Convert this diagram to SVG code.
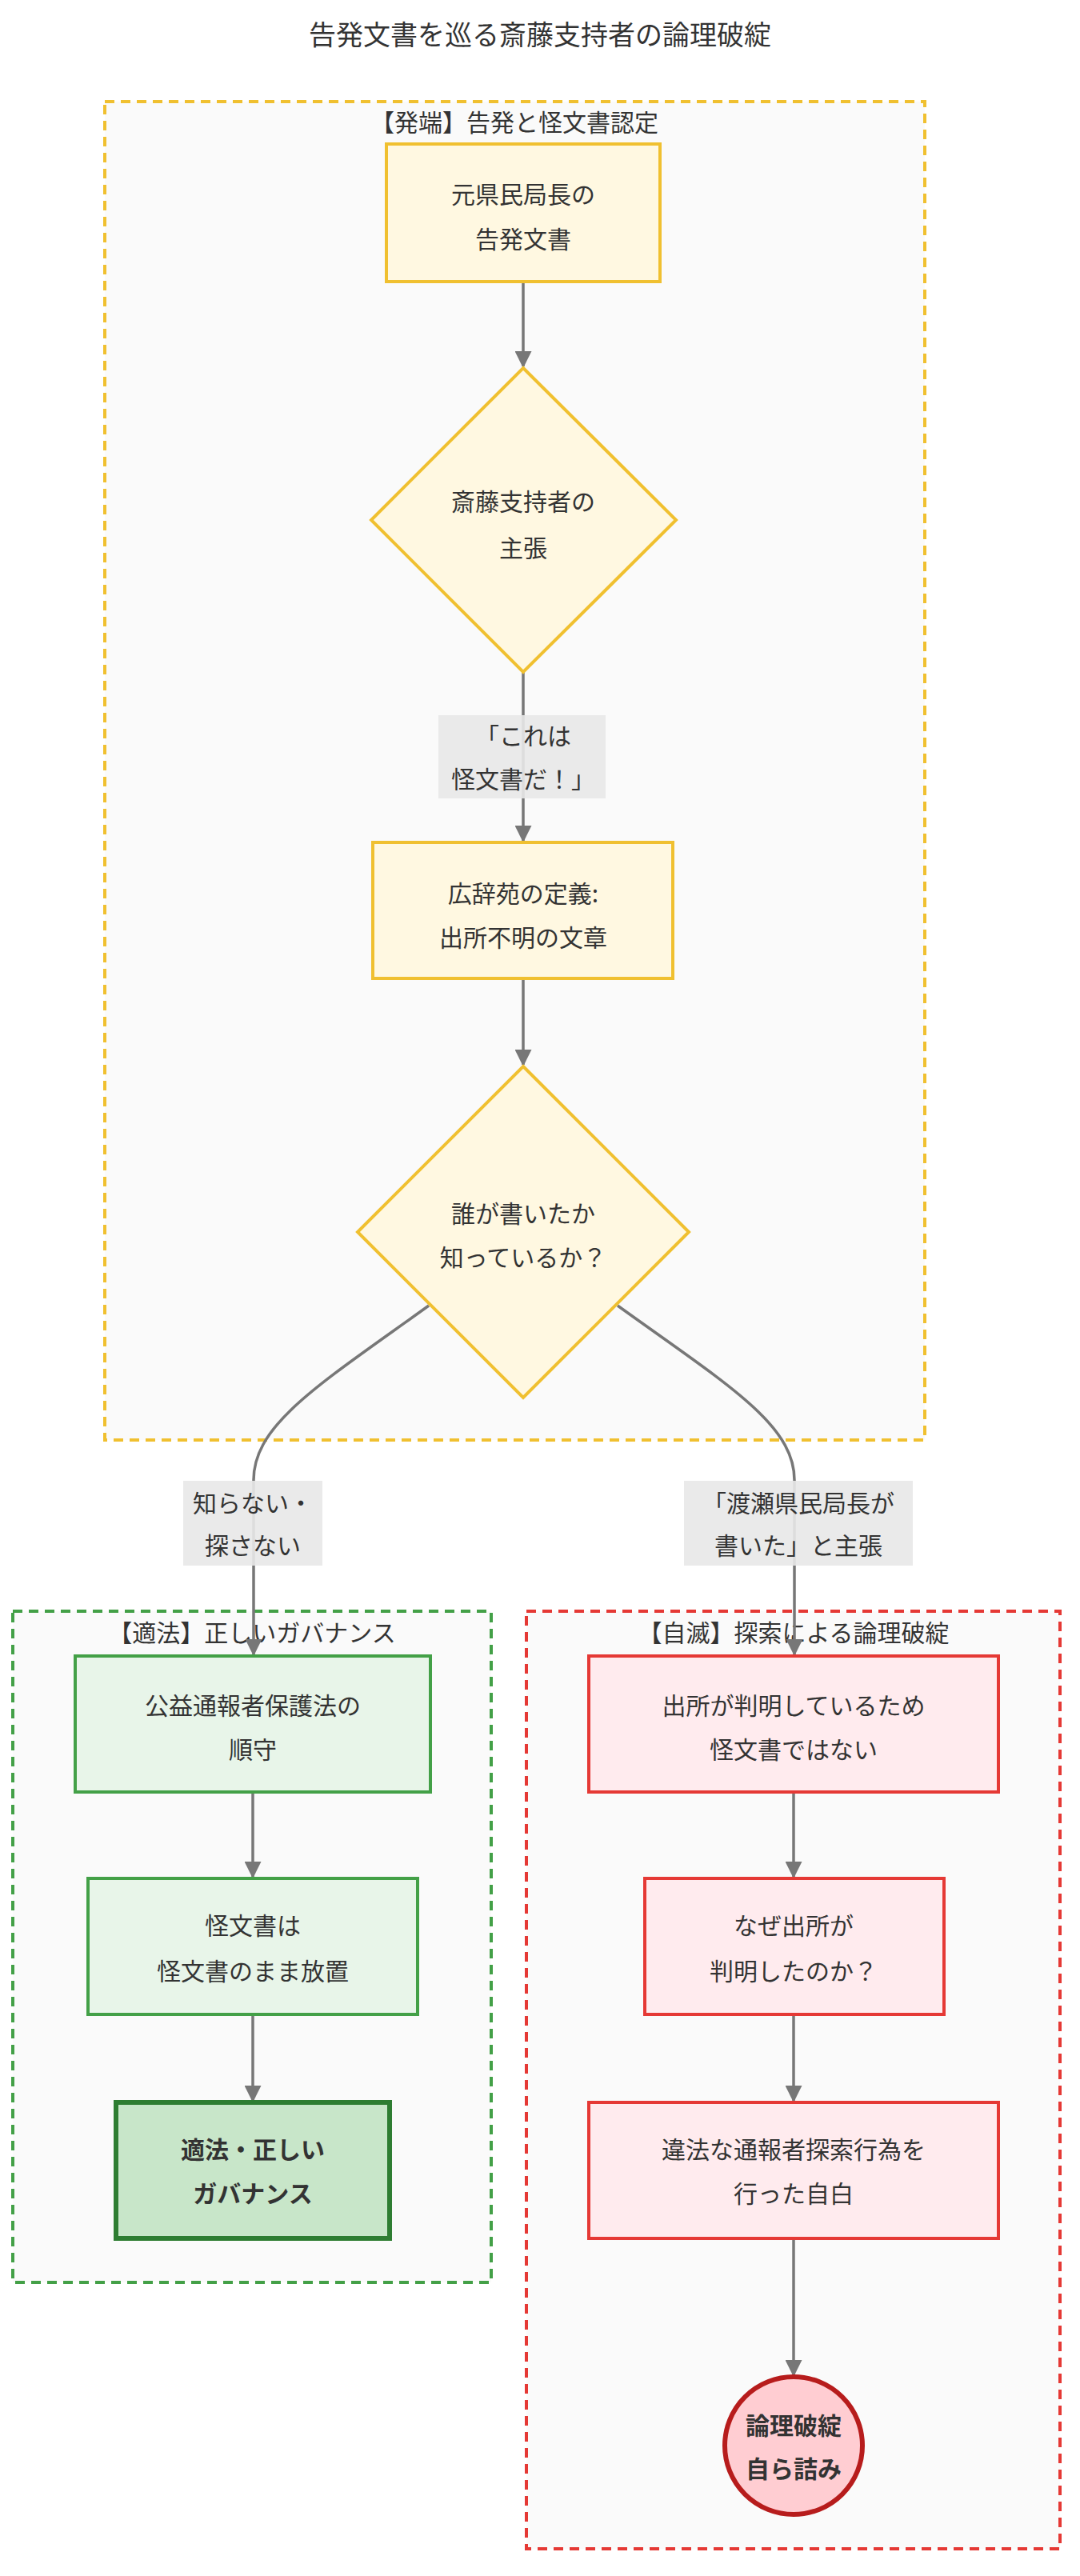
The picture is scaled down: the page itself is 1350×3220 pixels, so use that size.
<svg xmlns="http://www.w3.org/2000/svg" width="1350" height="3220" viewBox="0 0 1350 3220">
<defs>
<style>
text{font-family:"Noto Sans CJK JP","Liberation Sans",sans-serif;fill:#333;text-anchor:middle;dominant-baseline:central}
.t{font-size:34px}
.n{font-size:30px}
.b{font-size:30px;font-weight:bold}
.cl{fill:#fafafa;stroke-width:4;stroke-dasharray:12 8}
.y{fill:#fff8e1;stroke:#f0c030;stroke-width:4}
.g{fill:#e8f5e9;stroke:#43a047;stroke-width:4}
.r{fill:#ffebee;stroke:#e53935;stroke-width:4}
.e{fill:none;stroke:#777;stroke-width:3.5}
.lb{fill:#e8e8e8;opacity:0.9}
</style>
<marker id="ar" viewBox="0 0 10 10" refX="9" refY="5" markerWidth="6" markerHeight="6" orient="auto"><path d="M0,0 L10,5 L0,10 z" fill="#777"/></marker>
</defs>
<rect width="1350" height="3220" fill="#fff"/>
<text class="t" x="675" y="41">告発文書を巡る斎藤支持者の論理破綻</text>
<g id="cluster-hattan"><rect class="cl" x="131" y="127" width="1025" height="1673" stroke="#f0c030"/><text class="n" x="643" y="151">【発端】告発と怪文書認定</text></g>
<g id="cluster-tekiho"><rect class="cl" x="16" y="2014" width="598" height="839" stroke="#43a047"/><text class="n" x="315" y="2039">【適法】正しいガバナンス</text></g>
<g id="cluster-jimetsu"><rect class="cl" x="658" y="2014" width="667" height="1172" stroke="#e53935"/><text class="n" x="992" y="2039">【自滅】探索による論理破綻</text></g>
<g id="edges">
<path class="e" d="M654,352 L654,458" marker-end="url(#ar)"/>
<path class="e" d="M654,840 L654,1051" marker-end="url(#ar)"/>
<path class="e" d="M654,1223 L654,1331" marker-end="url(#ar)"/>
<path class="e" d="M536,1632 C400,1730 317,1780 317,1850 L317,2068" marker-end="url(#ar)"/>
<path class="e" d="M772,1632 C908,1730 993,1780 993,1850 L993,2068" marker-end="url(#ar)"/>
<path class="e" d="M316,2240 L316,2346" marker-end="url(#ar)"/>
<path class="e" d="M316,2518 L316,2626" marker-end="url(#ar)"/>
<path class="e" d="M992,2240 L992,2346" marker-end="url(#ar)"/>
<path class="e" d="M992,2518 L992,2626" marker-end="url(#ar)"/>
<path class="e" d="M992,2798 L992,2969" marker-end="url(#ar)"/>
<rect class="lb" x="548" y="894" width="209" height="104"/><text class="n" x="654" y="918">「これは</text><text class="n" x="654" y="972">怪文書だ！」</text>
<rect class="lb" x="229" y="1851" width="174" height="106"/><text class="n" x="316" y="1877">知らない・</text><text class="n" x="316" y="1930">探さない</text>
<rect class="lb" x="855" y="1851" width="286" height="106"/><text class="n" x="998" y="1877">「渡瀬県民局長が</text><text class="n" x="998" y="1930">書いた」と主張</text>
</g>
<g id="A"><rect class="y" x="483" y="180" width="342" height="172"/><text class="n" x="654" y="241">元県民局長の</text><text class="n" x="654" y="297">告発文書</text></g>
<g id="B"><polygon class="y" points="654,460 845,650 654,840 464,650"/><text class="n" x="654" y="625">斎藤支持者の</text><text class="n" x="654" y="683">主張</text></g>
<g id="C"><rect class="y" x="466" y="1053" width="375" height="170"/><text class="n" x="654" y="1115">広辞苑の定義:</text><text class="n" x="654" y="1170">出所不明の文章</text></g>
<g id="D"><polygon class="y" points="654,1333 861,1540 654,1747 447,1540"/><text class="n" x="654" y="1515">誰が書いたか</text><text class="n" x="654" y="1570">知っているか？</text></g>
<g id="G1"><rect class="g" x="94" y="2070" width="444" height="170"/><text class="n" x="316" y="2130">公益通報者保護法の</text><text class="n" x="316" y="2185">順守</text></g>
<g id="G2"><rect class="g" x="110" y="2348" width="412" height="170"/><text class="n" x="316" y="2405">怪文書は</text><text class="n" x="316" y="2462">怪文書のまま放置</text></g>
<g id="G3"><rect x="145" y="2628" width="342" height="170" fill="#c8e6c9" stroke="#2e7d32" stroke-width="6"/><text class="b" x="316" y="2685">適法・正しい</text><text class="b" x="316" y="2740">ガバナンス</text></g>
<g id="R1"><rect class="r" x="736" y="2070" width="512" height="170"/><text class="n" x="992" y="2130">出所が判明しているため</text><text class="n" x="992" y="2185">怪文書ではない</text></g>
<g id="R2"><rect class="r" x="806" y="2348" width="374" height="170"/><text class="n" x="992" y="2405">なぜ出所が</text><text class="n" x="992" y="2462">判明したのか？</text></g>
<g id="R3"><rect class="r" x="736" y="2628" width="512" height="170"/><text class="n" x="992" y="2685">違法な通報者探索行為を</text><text class="n" x="992" y="2740">行った自白</text></g>
<g id="R4"><circle cx="992" cy="3057" r="86" fill="#ffcdd2" stroke="#b71c1c" stroke-width="6"/><text class="b" x="992" y="3030">論理破綻</text><text class="b" x="992" y="3084">自ら詰み</text></g>
</svg>
